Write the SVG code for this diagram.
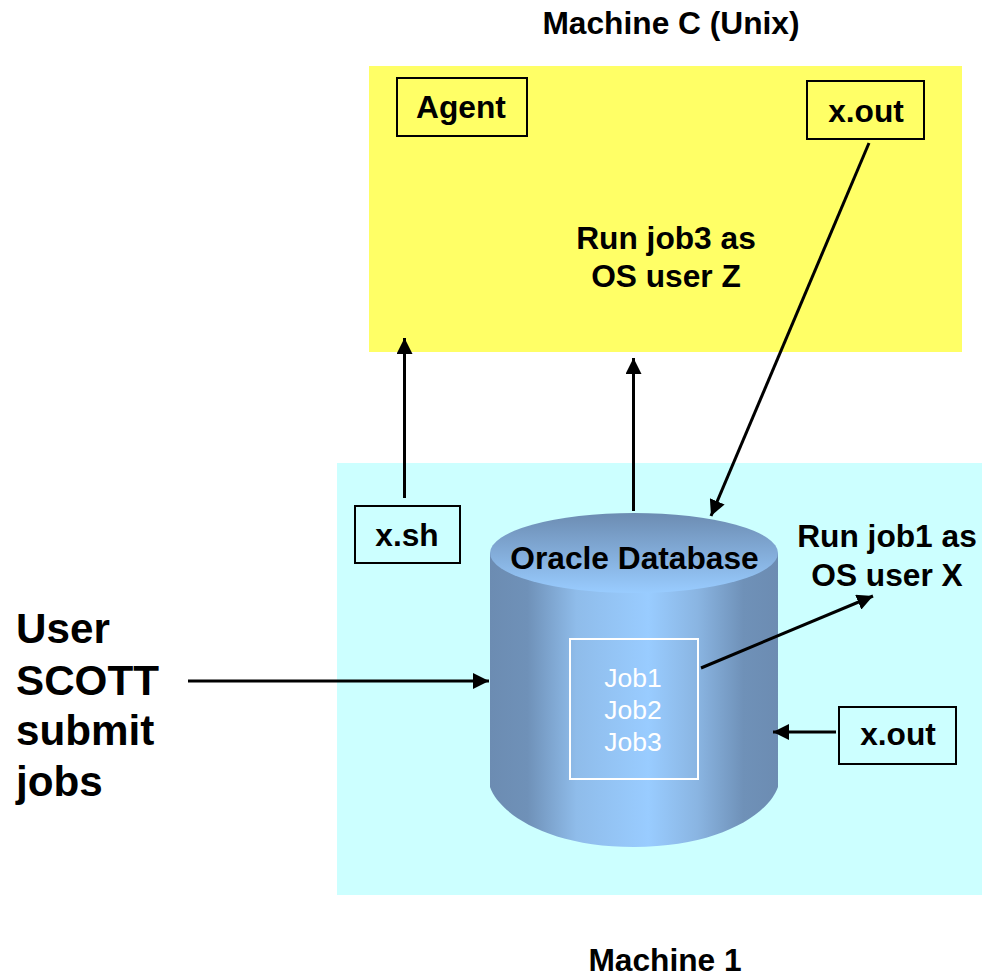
<svg xmlns="http://www.w3.org/2000/svg" width="982" height="978" viewBox="0 0 982 978">
<defs>
<linearGradient id="body" x1="0" y1="0" x2="1" y2="0"><stop offset="0" stop-color="#6c8cb2"/><stop offset="0.13" stop-color="#6f91b8"/><stop offset="0.3" stop-color="#8fbcea"/><stop offset="0.55" stop-color="#99ccff"/><stop offset="0.72" stop-color="#8ab5e2"/><stop offset="0.88" stop-color="#6f91b8"/><stop offset="1" stop-color="#6c8cb2"/></linearGradient>
<linearGradient id="top" x1="0" y1="0" x2="0" y2="1"><stop offset="0" stop-color="#6c8cb2"/><stop offset="1" stop-color="#99ccff"/></linearGradient>
<marker id="a" viewBox="0 0 10 10" refX="10" refY="5" markerWidth="16" markerHeight="16" markerUnits="userSpaceOnUse" orient="auto"><path d="M0 0L10 5L0 10Z" fill="#000"/></marker>
</defs>
<style>
text{font-family:"Liberation Sans",Arial,sans-serif;font-weight:bold;fill:#000}
.t{font-size:31.7px}.b{font-size:42.2px}.w{font-size:26.5px;font-weight:normal;fill:#fff}
.box{fill:none;stroke:#000;stroke-width:2}
.c{stroke:#000;stroke-width:3;fill:none;marker-end:url(#a)}
</style>
<rect id="machine-c" x="369" y="66" width="593" height="286" fill="#ffff66"/>
<rect id="machine-1" x="337" y="463" width="645" height="432" fill="#ccffff"/>
<g id="label-c"><text class="t" x="671" y="34" text-anchor="middle">Machine C (Unix)</text></g>
<g id="agent"><rect class="box" x="397" y="78" width="130" height="58"/><text class="t" x="461" y="118" text-anchor="middle">Agent</text></g>
<g id="xout-c"><rect class="box" x="807" y="81" width="117" height="58"/><text class="t" x="866" y="122" text-anchor="middle">x.out</text></g>
<g id="run3"><text class="t" x="666" y="249" text-anchor="middle">Run job3 as</text><text class="t" x="666" y="287" text-anchor="middle">OS user Z</text></g>
<g id="xsh"><rect class="box" x="355" y="506" width="105" height="57"/><text class="t" x="407" y="546" text-anchor="middle">x.sh</text></g>
<g id="db">
<path d="M490 553V787C500 815 550 847 634 847C718 847 768 815 778 787V553Z" fill="url(#body)"/>
<ellipse cx="634" cy="553" rx="144" ry="40" fill="url(#top)"/>
<text class="t" x="634.500" y="569" text-anchor="middle">Oracle Database</text>
<rect x="570" y="639" width="128" height="140" fill="none" stroke="#fff" stroke-width="2"/>
<text class="w" x="633" y="687" text-anchor="middle">Job1</text><text class="w" x="633" y="719" text-anchor="middle">Job2</text><text class="w" x="633" y="751" text-anchor="middle">Job3</text>
</g>
<g id="run1"><text class="t" x="887" y="547" text-anchor="middle">Run job1 as</text><text class="t" x="887" y="586" text-anchor="middle">OS user X</text></g>
<g id="xout-1"><rect class="box" x="839" y="707" width="117" height="57"/><text class="t" x="898" y="745" text-anchor="middle">x.out</text></g>
<g id="user"><text class="b" x="16" y="643">User</text><text class="b" x="16" y="695">SCOTT</text><text class="b" x="16" y="745">submit</text><text class="b" x="16" y="796">jobs</text></g>
<g id="label-1"><text class="t" x="665" y="971" text-anchor="middle">Machine 1</text></g>
<g id="connectors">
<line class="c" x1="404.500" y1="498" x2="404.500" y2="338"/>
<line class="c" x1="633.500" y1="511" x2="633.500" y2="358"/>
<line class="c" x1="869" y1="143" x2="711" y2="516"/>
<line class="c" x1="188" y1="681" x2="489" y2="681"/>
<line class="c" x1="701" y1="668" x2="873" y2="596"/>
<line class="c" x1="836" y1="732" x2="773" y2="732"/>
</g>
</svg>
